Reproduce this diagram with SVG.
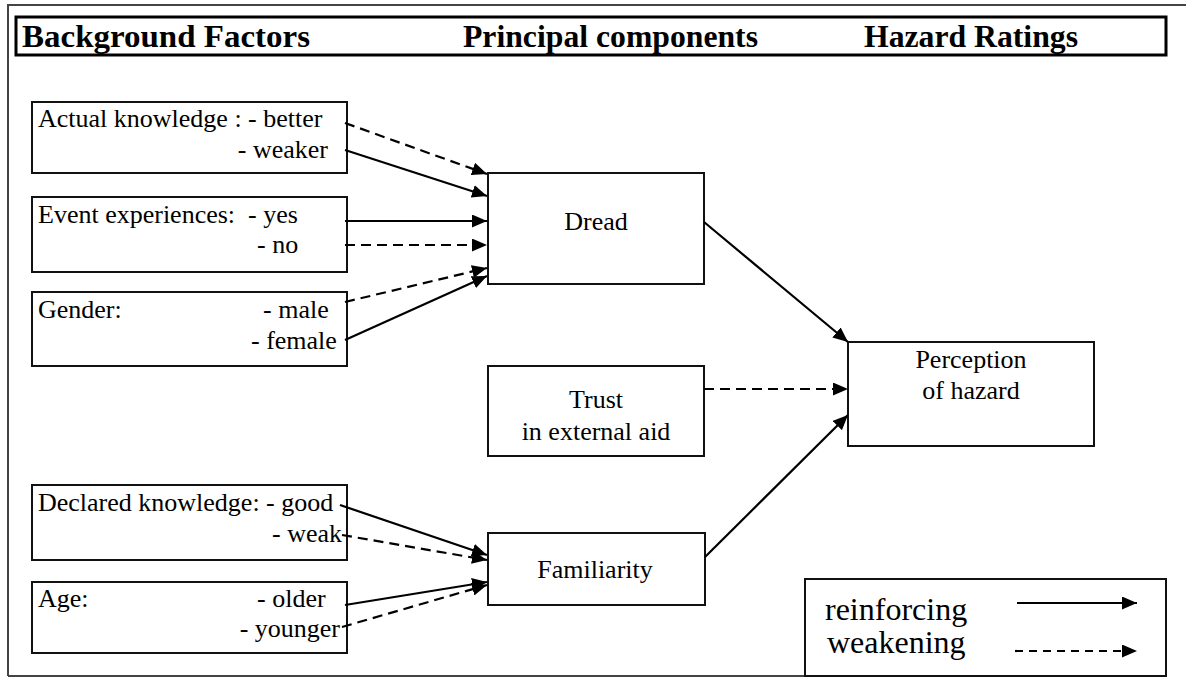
<svg xmlns="http://www.w3.org/2000/svg" width="1190" height="677" viewBox="0 0 1190 677">
<style>
text{font-family:"Liberation Serif","Times New Roman",serif;fill:#000}
.t{font-size:26px}
.h{font-size:32px;font-weight:bold}
.lg{font-size:32px}
.c{text-anchor:middle}
.e{text-anchor:end}
.box{fill:#fff;stroke:#111;stroke-width:2}
.frame{fill:none;stroke:#444;stroke-width:2}
.solid{fill:none;stroke:#000;stroke-width:2.2;marker-end:url(#ah)}
.dash{fill:none;stroke:#000;stroke-width:2.2;stroke-dasharray:10 6;marker-end:url(#ah)}
</style>
<defs>
<marker id="ah" markerUnits="userSpaceOnUse" markerWidth="16" markerHeight="13" refX="15" refY="6.5" orient="auto">
<path d="M0,0 L15,6.5 L0,13 z" fill="#000"/>
</marker>
</defs>
<rect width="1190" height="677" fill="#fff"/>
<g id="frame">
<path class="frame" d="M8,676 L8,5 L1186,5"/>
<path class="frame" d="M8,676 L805,676"/>
</g>
<g id="header">
<rect x="16" y="17" width="1150" height="38" fill="none" stroke="#000" stroke-width="3"/>
<text class="h" x="22" y="47" textLength="288" lengthAdjust="spacingAndGlyphs">Background Factors</text>
<text class="h" x="463" y="47" textLength="295" lengthAdjust="spacingAndGlyphs">Principal components</text>
<text class="h" x="864" y="47" textLength="214" lengthAdjust="spacingAndGlyphs">Hazard Ratings</text>
</g>
<g id="actual-knowledge">
<rect class="box" x="32" y="102" width="315" height="71"/>
<text class="t" x="38" y="127">Actual knowledge : - better</text>
<text class="t e" x="328" y="158">- weaker</text>
</g>
<g id="event-experiences">
<rect class="box" x="32" y="197" width="315" height="75"/>
<text class="t" x="38" y="223">Event experiences:</text>
<text class="t" x="248" y="223">- yes</text>
<text class="t" x="257" y="253">- no</text>
</g>
<g id="gender">
<rect class="box" x="32" y="292" width="315" height="74"/>
<text class="t" x="38" y="318">Gender:</text>
<text class="t" x="263" y="318">- male</text>
<text class="t" x="251" y="349">- female</text>
</g>
<g id="declared-knowledge">
<rect class="box" x="32" y="485" width="315" height="75"/>
<text class="t" x="38" y="511">Declared knowledge: - good</text>
<text class="t e" x="342" y="542">- weak</text>
</g>
<g id="age">
<rect class="box" x="32" y="582" width="315" height="71"/>
<text class="t" x="38" y="607">Age:</text>
<text class="t" x="257" y="607">- older</text>
<text class="t e" x="340" y="637">- younger</text>
</g>
<g id="dread">
<rect class="box" x="488" y="173" width="216" height="111"/>
<text class="t c" x="596" y="230">Dread</text>
</g>
<g id="trust">
<rect class="box" x="488" y="366" width="216" height="90"/>
<text class="t c" x="596" y="408">Trust</text>
<text class="t c" x="596" y="440">in external aid</text>
</g>
<g id="familiarity">
<rect class="box" x="488" y="533" width="217" height="72"/>
<text class="t c" x="595" y="578">Familiarity</text>
</g>
<g id="perception">
<rect class="box" x="848" y="342" width="246" height="104"/>
<text class="t c" x="971" y="368">Perception</text>
<text class="t c" x="971" y="399">of hazard</text>
</g>
<g id="legend">
<rect class="box" x="805" y="579" width="361" height="97"/>
<text class="lg" x="825" y="620">reinforcing</text>
<text class="lg" x="827" y="653">weakening</text>
<path class="solid" d="M1017,603 L1137,603"/>
<path class="dash" d="M1015,651 L1137,651" style="stroke-dasharray:8 6"/>
</g>
<g id="connectors">
<path class="dash" d="M345,123 L487,174"/>
<path class="solid" d="M345,150 L487,196"/>
<path class="solid" d="M345,221 L487,221"/>
<path class="dash" d="M345,245 L487,245"/>
<path class="dash" d="M345,302 L487,268"/>
<path class="solid" d="M345,340 L487,276"/>
<path class="solid" d="M340,505 L487,555"/>
<path class="dash" d="M342,535 L487,560"/>
<path class="solid" d="M345,605 L487,582"/>
<path class="dash" d="M342,627 L487,585"/>
<path class="solid" d="M704,222 L848,342"/>
<path class="dash" d="M704,389 L848,389"/>
<path class="solid" d="M705,557 L848,415"/>
</g>
</svg>
